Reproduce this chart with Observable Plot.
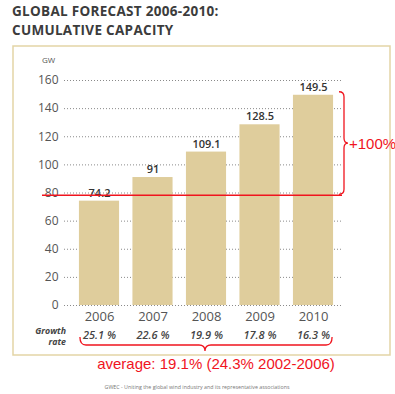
<!DOCTYPE html>
<html>
<head>
<meta charset="utf-8">
<script src="https://cdn.jsdelivr.net/npm/d3@7"></script>
<script src="https://cdn.jsdelivr.net/npm/@observablehq/plot@0.6"></script>
<style>
  html, body { margin: 0; padding: 0; background: white; }
  #chart { width: 395px; height: 394px; }
</style>
</head>
<body>
<div id="chart"></div>
<script>
const years = ["2006", "2007", "2008", "2009", "2010"];
const capacity = [74.2, 91, 109.1, 128.5, 149.5];
const growth = ["25.1 %", "22.6 %", "19.9 %", "17.8 %", "16.3 %"];
const yTicks = [0, 20, 40, 60, 80, 100, 120, 140, 160];
const doublingLevel = 78;
const titleLines = ["GLOBAL FORECAST 2006-2010:", "CUMULATIVE CAPACITY"];
const unitLabel = "GW";
const growthLabel = ["Growth", "rate"];
const increaseLabel = "+100%";
const averageLabel = "average: 19.1% (24.3% 2002-2006)";
const footer = "GWEC - Uniting the global wind industry and its representative associations";

const data = years.map((year, i) => ({ year, capacity: capacity[i], growth: growth[i] }));

const chart = Plot.plot({
  width: 395,
  height: 394,
  marginTop: 80,
  marginBottom: 89,
  marginLeft: 67,
  marginRight: 50,
  style: { fontFamily: "'Open Sans', sans-serif", background: "white", overflow: "visible" },
  x: { domain: years, paddingInner: 0.25, paddingOuter: 0.223, round: false, axis: null },
  y: { domain: [0, 160], axis: null },
  marks: [
    Plot.ruleY(yTicks, { stroke: "#8a8a8a", strokeDasharray: "1,2", dx: -3 }),
    Plot.barY(data, { x: "year", y: "capacity", fill: "#dfcd9c" }),
    Plot.text(data, { x: "year", y: "capacity", text: d => String(d.capacity), dy: -8, fontSize: 11, fontWeight: 600, fill: "#333" }),
    Plot.axisY({ ticks: yTicks, tickSize: 0, tickPadding: 9, fontSize: 12, color: "#555", label: null }),
    Plot.axisX({ tickSize: 0, tickPadding: 6, fontSize: 13, color: "#555", label: null }),
    Plot.text(data, { x: "year", text: "growth", frameAnchor: "bottom", dy: 33, fontSize: 11, fontStyle: "italic", fontWeight: 600, fill: "#444" })
  ]
});
document.getElementById("chart").appendChild(chart);

const svg = d3.select(chart);
const xs = chart.scale("x");
const ys = chart.scale("y");
const bw = xs.bandwidth;

// outer box
svg.insert("rect", ":first-child")
  .attr("x", 13).attr("y", 46).attr("width", 377).attr("height", 309)
  .attr("fill", "none").attr("stroke", "#e3d5a6").attr("stroke-width", 1.5);

// title
titleLines.forEach((t, i) => {
  svg.append("text").attr("x", 12).attr("y", 16 + i * 19)
    .attr("text-anchor", "start")
    .attr("font-family", "'Open Sans', sans-serif").attr("font-weight", 700)
    .attr("font-size", 13.5).attr("letter-spacing", 0.3).attr("fill", "#3c3c3c").text(t);
});

// unit
svg.append("text").attr("x", 42).attr("y", 63)
  .attr("text-anchor", "start")
  .attr("font-family", "'Open Sans', sans-serif").attr("font-size", 8)
  .attr("fill", "#555").text(unitLabel);

// growth rate label
growthLabel.forEach((t, i) => {
  svg.append("text").attr("x", 66).attr("y", 334 + i * 11)
    .attr("text-anchor", "end")
    .attr("font-family", "'Open Sans', sans-serif").attr("font-weight", 700)
    .attr("font-style", "italic").attr("font-size", 8.8)
    .attr("fill", "#444").text(t);
});

const red = "#f0141e";
// red horizontal line
const yl = ys.apply(doublingLevel);
svg.append("line").attr("x1", 42).attr("x2", 342).attr("y1", yl).attr("y2", yl)
  .attr("stroke", red).attr("stroke-width", 1.6);

// right vertical brace
const yTop = ys.apply(capacity[capacity.length - 1]) - 3;
const yBot = yl - 1;
const yMid = (yTop + yBot) / 2;
const bx0 = 339, bx1 = 344, bx2 = 348, r = 5;
svg.append("path")
  .attr("d", `M${bx0},${yTop} Q${bx1},${yTop} ${bx1},${yTop + r} L${bx1},${yMid - r} Q${bx1},${yMid} ${bx2},${yMid} Q${bx1},${yMid} ${bx1},${yMid + r} L${bx1},${yBot - r} Q${bx1},${yBot} ${bx0},${yBot}`)
  .attr("fill", "none").attr("stroke", red).attr("stroke-width", 1.3);
svg.append("text").attr("x", 349).attr("y", yMid + 5.5)
  .attr("text-anchor", "start")
  .attr("font-family", "'Liberation Sans', Arial, sans-serif").attr("font-size", 15)
  .attr("fill", red).text(increaseLabel);

// bottom horizontal brace
const hx1 = xs.apply(years[0]) + 1;
const hx2 = xs.apply(years[years.length - 1]) + bw - 1;
const hxm = 205;
const hy0 = 337, hy1 = 345, hy2 = 351;
svg.append("path")
  .attr("d", `M${hx1},${hy0} Q${hx1},${hy1} ${hx1 + 6},${hy1} L${hxm - 6},${hy1} Q${hxm},${hy1} ${hxm},${hy2} Q${hxm},${hy1} ${hxm + 6},${hy1} L${hx2 - 6},${hy1} Q${hx2},${hy1} ${hx2},${hy0}`)
  .attr("fill", "none").attr("stroke", red).attr("stroke-width", 1.3);
svg.append("text").attr("x", 216).attr("y", 369)
  .attr("text-anchor", "middle")
  .attr("font-family", "'Liberation Sans', Arial, sans-serif").attr("font-size", 15)
  .attr("fill", red).text(averageLabel);

// footer
svg.append("text").attr("x", 197).attr("y", 389)
  .attr("text-anchor", "middle")
  .attr("font-family", "'Open Sans', sans-serif").attr("font-size", 5.3)
  .attr("fill", "#777").text(footer);
</script>
</body>
</html>
